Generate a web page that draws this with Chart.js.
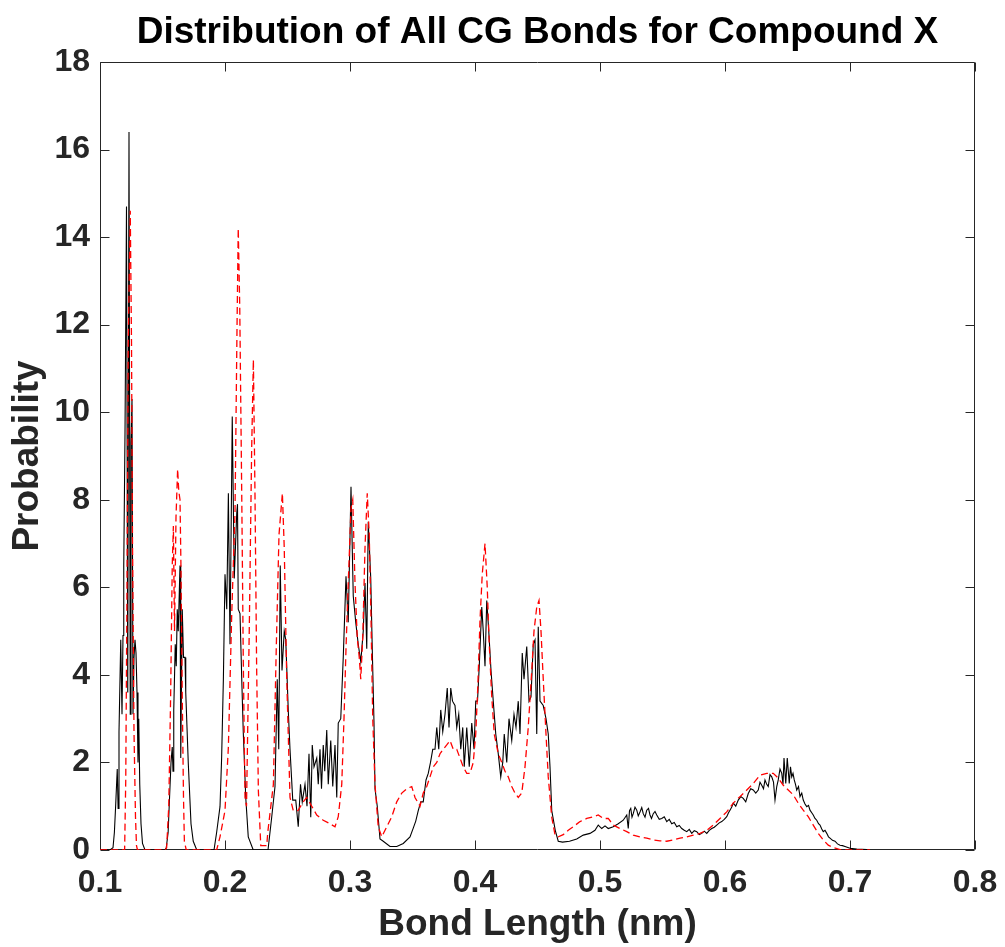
<!DOCTYPE html>
<html><head><meta charset="utf-8">
<script src="https://cdn.jsdelivr.net/npm/chart.js@4.4.1/dist/chart.umd.min.js"></script>
<style>html,body{margin:0;padding:0;background:#fff}canvas{display:block}</style>
</head><body>
<canvas id="c" width="1005" height="947" style="width:1005px;height:947px"></canvas>
<script>
const titleText = 'Distribution of All CG Bonds for Compound X';
const xLabel = 'Bond Length (nm)';
const yLabel = 'Probability';
const xTickValues = [0.1,0.2,0.3,0.4,0.5,0.6,0.7,0.8];
const yTickValues = [0,2,4,6,8,10,12,14,16,18];

// Black solid series
const blackX = [
0.100,0.108,0.1104,0.1115,0.1125,0.1138,0.1145,0.1152,0.1166,0.1176,
0.1184,0.119,0.120,0.1212,0.1222,0.1232,0.1242,0.1248,0.1256,0.1264,
0.1272,0.128,0.1288,0.1296,0.1304,0.131,0.1318,0.1328,0.134,0.136,
0.152,0.153,0.1545,0.1555,0.1568,0.1578,0.1584,0.159,0.1602,0.161,0.1618,
0.1626,0.164,0.1646,0.1658,0.1668,0.168,0.1686,0.1706,0.1728,0.1746,0.1774,
0.1912,0.1933,0.196,0.1973,0.1987,0.200,0.2014,0.2027,0.204,0.2058,
0.2074,0.2094,0.210,0.2106,0.212,0.2134,0.2146,0.2166,0.2186,0.2226,
0.2344,0.2374,0.240,0.2418,0.243,0.2442,0.2456,0.2474,0.2486,0.2506,
0.252,0.2542,0.2566,0.2586,0.2604,0.2618,0.264,0.2656,0.2672,0.2686,
0.2698,0.2712,0.2734,0.2746,0.276,0.2772,0.2786,0.2798,0.2814,0.2826,
0.2846,0.2862,0.288,0.2894,0.2906,0.2926,0.2946,0.2968,0.2986,0.3008,
0.3026,0.3046,0.3066,0.3086,0.3106,0.312,0.3134,0.3146,0.3166,0.3178,
0.3192,0.320,0.3218,0.324,0.3266,
0.332,0.3374,0.3426,0.348,0.3506,0.3526,0.3546,0.3566,0.3586,0.3608,
0.3626,0.3644,0.3662,0.368,0.3694,0.371,0.3726,0.3742,0.376,0.3778,
0.3792,0.3806,0.382,0.384,0.3854,0.387,0.3886,0.3902,0.3914,0.3934,
0.3954,0.3974,0.3992,0.4006,0.402,0.4034,0.4054,0.4066,0.408,0.4094,
0.411,0.4128,0.4146,0.4166,0.4186,0.4206,0.4222,0.4234,0.4254,0.4272,
0.4294,0.4312,0.4328,0.4346,0.436,0.4378,0.4392,0.4414,0.4432,0.4448,
0.4466,0.448,0.4494,0.4506,0.452,0.4546,0.4568,0.4586,0.460,0.4614,
0.4642,0.4666,0.470,0.4756,0.4814,0.4866,0.492,0.496,0.4986,0.5014,
0.504,0.5066,0.5106,0.5146,0.5186,0.5214,0.5226,0.5236,0.5246,0.5256,
0.5266,0.528,0.5294,0.5306,0.532,0.5334,0.5346,0.536,0.5374,0.5388,
0.540,0.5412,0.5426,0.544,0.5454,0.5474,0.5494,0.5514,0.5534,0.5554,
0.5574,0.5594,0.5614,0.5634,0.5654,0.5674,0.5694,0.5714,0.5734,0.5754,
0.5774,0.5794,0.5814,0.5834,0.5854,0.5874,0.5894,0.5914,0.5934,0.5954,
0.5974,0.5994,0.6014,0.6028,0.604,0.6054,0.6066,0.6086,0.6106,0.6126,
0.6146,0.6166,0.6186,0.6206,0.6226,0.6246,0.6266,0.628,0.6294,0.6308,
0.632,0.6334,0.6346,0.636,0.6374,0.6388,0.640,0.6414,0.6426,0.644,
0.6454,0.6464,0.6472,0.6486,0.6498,0.6514,0.6524,0.6534,0.6544,0.6554,
0.6564,0.6574,0.6588,0.660,0.6614,0.6626,0.664,0.6654,0.6668,0.668,
0.6694,0.6706,0.672,0.6734,0.6748,0.676,0.6774,0.6786,0.68,0.6814,
0.6828,0.684,0.686,0.688,0.690,0.692,0.694,0.696,0.700,0.7054,
0.7134,0.716
];
const blackY = [
0,0,0.05,0.4,1.0,1.85,0.95,2.7,4.8,3.1,
4.9,6.5,9.5,14.7,3.6,16.4,3.1,9.3,10.3,3.1,
4.4,4.8,4.5,3.6,2.0,3.0,1.5,0.6,0.15,0,
0,0.05,0.4,1.1,2.0,2.35,1.8,3.2,4.7,4.2,5.5,
5.0,6.5,2.1,5.5,4.4,4.4,3.6,2.0,0.6,0.2,0,
0,0.4,0.99,2.1,3.9,6.3,5.5,8.15,4.7,9.9,
6.2,7.7,7.9,5.5,5.4,3.9,2.7,1.2,0.3,0,
0,0.76,1.45,3.9,2.3,6.5,4.1,5.0,4.8,3.2,
2.3,1.14,1.14,0.53,1.5,1.1,1.5,1.0,2.2,0.75,
2.4,1.9,2.1,1.5,2.3,1.4,2.4,1.8,2.74,1.5,
2.5,1.45,2.4,1.2,2.9,3.0,4.4,6.25,5.2,8.3,
5.8,5.2,4.7,4.3,5.0,6.1,4.6,7.5,6.2,4.6,
2.9,1.4,1.0,0.25,0.2,
0.08,0.08,0.15,0.3,0.5,0.66,0.9,1.1,1.1,1.6,
1.75,2.0,2.3,2.3,2.8,2.3,3.2,2.7,3.1,3.7,
2.8,3.7,3.4,3.3,2.8,3.1,2.3,2.8,1.9,2.8,
1.9,2.9,2.3,3.4,3.4,4.2,5.55,5.0,4.2,5.7,
5.0,4.1,3.4,2.65,2.2,1.67,2.0,2.65,2.0,3.0,
2.5,3.1,2.8,3.4,2.65,4.5,3.9,4.65,3.4,3.5,
4.7,4.8,2.65,5.1,3.4,3.3,3.0,2.65,1.9,0.9,
0.45,0.2,0.18,0.2,0.25,0.34,0.38,0.45,0.57,0.49,
0.55,0.49,0.53,0.6,0.68,0.8,0.49,0.9,0.95,0.75,
0.83,0.98,0.91,0.78,0.87,0.97,0.83,0.75,0.91,0.95,
0.8,0.72,0.83,0.88,0.8,0.7,0.72,0.76,0.65,0.7,
0.6,0.63,0.53,0.56,0.49,0.45,0.42,0.47,0.38,0.44,
0.42,0.35,0.38,0.43,0.38,0.45,0.49,0.52,0.57,0.62,
0.65,0.7,0.76,0.85,0.91,0.98,1.07,1.0,1.14,1.22,
1.18,1.1,1.29,1.4,1.37,1.3,1.37,1.55,1.48,1.4,
1.6,1.5,1.45,1.72,1.67,1.55,1.14,1.45,1.6,1.85,
1.75,1.5,2.1,1.52,2.1,1.52,1.9,1.67,1.75,1.6,
1.5,1.37,1.45,1.22,1.3,1.14,1.05,0.99,1.02,0.91,
0.85,0.8,0.72,0.68,0.6,0.57,0.48,0.42,0.45,0.38,
0.3,0.27,0.22,0.2,0.14,0.11,0.1,0.08,0.04,0.02,
0.01,0
];

// Red dashed series
const redX = [
0.100,0.1197,0.1206,0.1216,0.1226,0.1242,0.1252,0.126,0.1272,0.1284,0.1292,0.130,
0.152,0.1533,0.155,0.1565,0.1578,0.1587,0.1596,0.1608,0.1621,0.163,0.164,0.1648,0.1658,0.1668,0.1675,0.169,
0.190,0.1933,0.196,0.200,0.2027,0.2054,0.208,0.2096,0.2106,0.2118,0.2134,0.2146,0.216,0.2172,0.2195,0.2213,0.2227,0.224,0.2253,0.2267,0.2286,0.2334,
0.2342,0.2387,0.241,0.2432,0.2459,0.2474,0.2494,0.252,0.2546,0.2584,0.2626,0.2654,0.2694,0.2734,0.2786,0.284,0.288,0.2906,0.2934,0.2952,
0.2968,0.2986,0.3008,0.3022,0.304,0.3058,0.3074,0.3086,0.3102,0.312,0.3138,0.3154,0.3168,0.3182,0.320,0.3226,0.3254,
0.3294,0.3334,0.3374,0.3414,0.3454,0.3494,0.352,0.356,0.3586,0.3614,0.364,0.3666,0.3694,0.372,0.3746,0.3774,0.38,0.3826,0.3854,0.388,0.3906,0.3934,0.396,0.3986,
0.4006,0.4022,0.404,0.4058,0.408,0.4098,0.4114,0.4134,0.4154,0.4186,0.4214,0.424,0.4266,0.4294,0.432,0.4346,0.4374,0.44,0.4426,0.4454,0.4472,0.4494,0.4512,0.4528,0.4546,0.4568,0.4586,0.4614,0.464,0.4666,
0.4706,0.4746,0.4786,0.484,0.4894,0.4946,0.4986,0.5026,0.5066,0.5106,0.516,0.5214,0.5266,0.532,0.5374,0.5426,0.548,0.5534,0.5586,0.564,0.5694,0.5746,0.58,0.5854,0.5906,0.596,
0.6014,0.6066,0.612,0.6174,0.6226,0.628,0.6334,0.6386,0.6426,0.6466,0.6506,0.6546,0.6586,0.6626,0.6666,0.6706,0.6746,0.6786,0.6826,0.6866,0.692,0.700,0.716
];
const redY = [
0,0,1.6,6.0,11.6,14.6,11.6,7.1,2.7,0.75,0.1,0,
0,0.05,1.0,3.5,6.5,7.4,5.0,7.6,8.7,8.2,8.0,6.4,3.5,1.2,0.2,0,
0,0,0.3,0.9,2.35,5.4,7.7,11.9,14.2,12.4,8.1,4.4,1.2,1.0,5.2,9.1,11.2,8.1,4.2,1.35,0.1,0.1,
0.4,1.5,4.6,7.2,8.15,6.9,3.9,1.2,0.9,0.9,1.1,1.2,1.0,0.8,0.68,0.6,0.53,0.76,1.5,3.0,
4.6,6.1,7.8,8.0,6.1,4.85,4.4,3.9,4.85,6.9,8.15,7.2,5.3,3.0,1.5,0.53,0.3,
0.53,0.76,1.1,1.3,1.4,1.45,1.2,1.0,1.3,1.45,1.67,1.9,2.0,2.2,2.3,2.4,2.5,2.3,2.3,2.1,1.9,1.75,1.75,2.0,
2.65,3.7,5.25,6.3,7.0,6.0,4.7,3.5,2.65,2.2,2.0,1.8,1.67,1.45,1.3,1.2,1.3,1.9,2.8,4.1,5.0,5.55,5.7,5.0,3.9,2.65,1.67,0.75,0.35,0.3,
0.35,0.45,0.53,0.65,0.72,0.76,0.8,0.72,0.72,0.57,0.49,0.42,0.34,0.3,0.27,0.23,0.21,0.2,0.23,0.27,0.3,0.34,0.38,0.45,0.57,0.72,
0.87,1.07,1.22,1.37,1.52,1.71,1.75,1.75,1.64,1.48,1.37,1.26,1.07,0.91,0.76,0.57,0.38,0.23,0.11,0.06,0.01,0,0
];

const FONT = '"Liberation Sans", Arial, Helvetica, sans-serif';
const AXIS_COLOR = '#262626';
const toPoints = (xs, ys) => xs.map((x, i) => ({x: x, y: ys[i]}));
if (blackX.length !== blackY.length || redX.length !== redY.length) {
  throw new Error('length mismatch ' + blackX.length + ' ' + blackY.length + ' ' + redX.length + ' ' + redY.length);
}

const boxPlugin = {
  id: 'matlabBox',
  beforeDatasetsDraw(chart) {
    const {ctx, chartArea: a, scales: {x, y}} = chart;
    ctx.save();
    ctx.strokeStyle = AXIS_COLOR;
    ctx.lineWidth = 1;
    const L = Math.round(a.left) + 0.5, R = Math.round(a.right) - 0.5;
    const T = Math.round(a.top) + 0.5, B = Math.round(a.bottom) - 0.5;
    const tl = 9;
    ctx.beginPath();
    ctx.rect(L, T, R - L, B - T);
    xTickValues.forEach(v => {
      const px = Math.round(x.getPixelForValue(v)) + 0.5;
      ctx.moveTo(px, B); ctx.lineTo(px, B - tl);
      ctx.moveTo(px, T); ctx.lineTo(px, T + tl);
    });
    yTickValues.forEach(v => {
      const py = Math.round(y.getPixelForValue(v)) + 0.5;
      ctx.moveTo(L, py); ctx.lineTo(L + tl, py);
      ctx.moveTo(R, py); ctx.lineTo(R - tl, py);
    });
    ctx.stroke();
    ctx.restore();
  },
  afterDraw(chart) {
    const {ctx, chartArea: a} = chart;
    ctx.save();
    ctx.fillStyle = '#000';
    ctx.font = 'bold 37px ' + FONT;
    ctx.textAlign = 'center';
    ctx.textBaseline = 'middle';
    ctx.fillText(titleText, (a.left + a.right) / 2, 33);
    ctx.restore();
  }
};

new Chart(document.getElementById('c'), {
  type: 'line',
  data: {
    datasets: [
      {
        label: 'red',
        data: toPoints(redX, redY),
        borderColor: '#ff0000',
        borderWidth: 1.3,
        borderDash: [7, 4],
        pointRadius: 0,
        tension: 0,
        fill: false
      },
      {
        label: 'black',
        data: toPoints(blackX, blackY),
        borderColor: '#000000',
        borderWidth: 1.1,
        pointRadius: 0,
        tension: 0,
        fill: false
      }
    ]
  },
  options: {
    responsive: false,
    animation: false,
    devicePixelRatio: 1,
    layout: {padding: {left: 0, right: 30, top: 62, bottom: 0}},
    plugins: {
      legend: {display: false},
      tooltip: {enabled: false},
      title: {display: false}
    },
    scales: {
      x: {
        type: 'linear',
        min: 0.1, max: 0.8,
        afterBuildTicks: s => { s.ticks = xTickValues.map(v => ({value: v})); },
        afterFit: s => { s.height = 97; s.paddingLeft = 0; s.paddingRight = 0; },
        grid: {display: false, drawTicks: false},
        border: {display: false},
        ticks: {
          padding: 14, color: AXIS_COLOR, autoSkip: false, maxRotation: 0,
          font: {family: FONT, size: 32, weight: 'bold'},
          callback: v => Number(v).toFixed(1)
        },
        title: {
          display: true, text: xLabel, color: AXIS_COLOR,
          font: {family: FONT, size: 37, weight: 'bold'},
          padding: {top: 0, bottom: 0}
        }
      },
      y: {
        type: 'linear',
        min: 0, max: 18,
        afterBuildTicks: s => { s.ticks = yTickValues.map(v => ({value: v})); },
        afterFit: s => { s.width = 100; s.paddingTop = 0; s.paddingBottom = 0; },
        grid: {display: false, drawTicks: false},
        border: {display: false},
        ticks: {
          padding: 10, color: AXIS_COLOR, autoSkip: false,
          font: {family: FONT, size: 32, weight: 'bold'},
          callback: v => String(v)
        },
        title: {
          display: true, text: yLabel, color: AXIS_COLOR,
          font: {family: FONT, size: 37, weight: 'bold'},
          padding: {top: 6, bottom: 0}
        }
      }
    }
  },
  plugins: [boxPlugin]
});
</script>
</body></html>
